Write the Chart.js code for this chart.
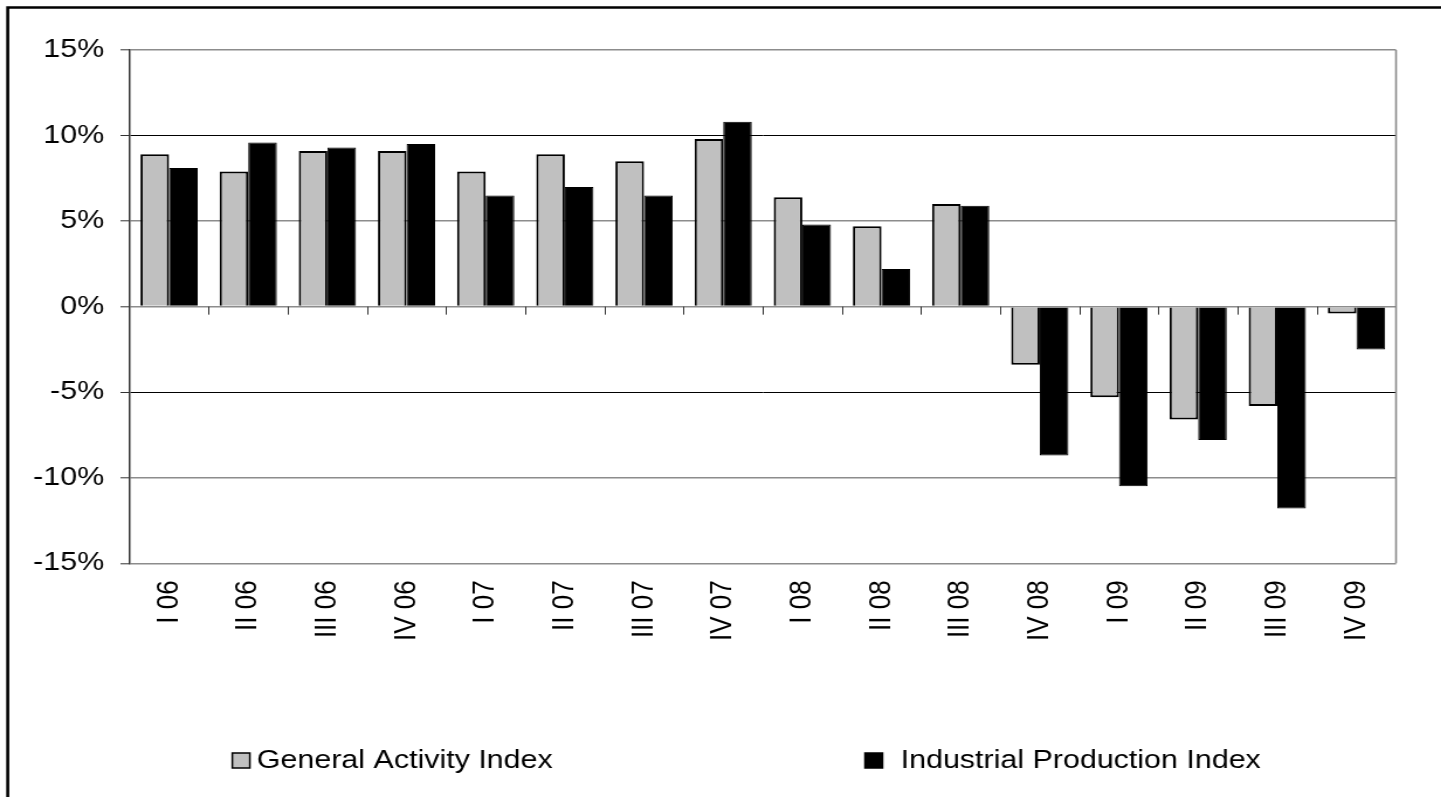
<!DOCTYPE html>
<html>
<head>
<meta charset="utf-8">
<script src="https://cdn.jsdelivr.net/npm/chart.js@4.4.1/dist/chart.umd.min.js"></script>
<style>
  html, body { margin: 0; padding: 0; background: #fff; overflow: hidden; }
  /* the chart is laid out narrower and stretched sideways, like the exported sheet */
  #wrap {
    position: absolute; left: 0; top: 0;
    width: 1232px; height: 797px;
    transform: scaleX(1.1697); transform-origin: 0 0;
  }
</style>
</head>
<body>
<div id="wrap"><canvas id="myChart"></canvas></div>
<script>
const quarters = ['I 06', 'II 06', 'III 06', 'IV 06', 'I 07', 'II 07', 'III 07', 'IV 07',
                  'I 08', 'II 08', 'III 08', 'IV 08', 'I 09', 'II 09', 'III 09', 'IV 09'];

// year-on-year change, %
const generalActivity = [8.9, 7.9, 9.1, 9.1, 7.9, 8.9, 8.5, 9.8, 6.4, 4.7, 6.0, -3.4, -5.3, -6.6, -5.8, -0.4];
const industrialProduction = [8.1, 9.6, 9.3, 9.5, 6.5, 7.0, 6.5, 10.8, 4.8, 2.2, 5.9, -8.7, -10.5, -7.8, -11.8, -2.5];

const seriesNames = ['General Activity Index', 'Industrial Production Index'];
const yTicks = [-15, -10, -5, 0, 5, 10, 15];

const FONT = '"Liberation Sans", Arial, sans-serif';
const FONT_SIZE = 26;

// outer frame, right border, tick marks on the zero line and the legend
const decorations = {
  id: 'decorations',
  afterDraw(chart) {
    const ctx = chart.ctx;
    const area = chart.chartArea;
    const xs = chart.scales.x;
    const ys = chart.scales.y;
    ctx.save();

    // heavy frame (top and left)
    ctx.strokeStyle = '#000';
    ctx.lineWidth = 2.6;
    ctx.beginPath();
    ctx.moveTo(6.6, chart.height + 5);
    ctx.lineTo(6.6, 7.5);
    ctx.lineTo(chart.width + 5, 7.5);
    ctx.stroke();

    // right edge of plot
    ctx.strokeStyle = '#888';
    ctx.lineWidth = 1.6;
    ctx.beginPath();
    ctx.moveTo(area.right, area.top);
    ctx.lineTo(area.right, area.bottom);
    ctx.stroke();

    // category tick marks hanging from 0%
    const y0 = ys.getPixelForValue(0);
    const step = xs.width / quarters.length;
    ctx.strokeStyle = '#333';
    ctx.lineWidth = 1;
    ctx.beginPath();
    for (let i = 1; i < quarters.length; i++) {
      const x = Math.round(xs.left + i * step) + 0.5;
      ctx.moveTo(x, y0);
      ctx.lineTo(x, y0 + 8);
    }
    ctx.stroke();

    // legend
    const items = [
      { box: [198.6, 753, 15, 15], textX: 219.6 },
      { box: [739.5, 753, 15, 15], textX: 770 }
    ];
    ctx.font = FONT_SIZE + 'px ' + FONT;
    ctx.textBaseline = 'alphabetic';
    ctx.textAlign = 'left';
    chart.data.datasets.forEach((ds, i) => {
      const it = items[i];
      ctx.fillStyle = ds.backgroundColor;
      ctx.fillRect(...it.box);
      ctx.strokeStyle = '#000';
      ctx.lineWidth = 1.5;
      ctx.strokeRect(...it.box);
      ctx.fillStyle = '#000';
      ctx.fillText(ds.label, it.textX, 767.5);
    });
    ctx.restore();
  }
};

const ctx = document.getElementById('myChart').getContext('2d');
new Chart(ctx, {
  type: 'bar',
  data: {
    labels: quarters,
    datasets: [{
      label: seriesNames[0],
      data: generalActivity,
      backgroundColor: '#c0c0c0',
      borderColor: '#000',
      borderWidth: 2,
      categoryPercentage: 0.723,
      barPercentage: 1
    }, {
      label: seriesNames[1],
      data: industrialProduction,
      backgroundColor: '#000',
      borderColor: '#000',
      borderWidth: 1,
      categoryPercentage: 0.723,
      barPercentage: 1
    }]
  },
  options: {
    responsive: true,
    maintainAspectRatio: false,
    animation: false,
    layout: { padding: { top: 50, right: 38.5, bottom: 0, left: 0 } },
    scales: {
      x: {
        grid: { display: false, drawTicks: false },
        border: { display: false },
        ticks: {
          autoSkip: false,
          minRotation: 90,
          maxRotation: 90,
          padding: 17,
          color: '#000',
          font: { family: FONT, size: FONT_SIZE }
        },
        afterFit(scale) { scale.height = 233.7; }
      },
      y: {
        min: -15,
        max: 15,
        afterBuildTicks(scale) { scale.ticks = yTicks.map(v => ({ value: v })); },
        grid: {
          color: c => (c.tick && (c.tick.value === 10 || c.tick.value === -5)) ? '#000' : '#8c8c8c',
          lineWidth: c => (c.tick && (c.tick.value === 10 || c.tick.value === -5)) ? 1 : 1.6,
          tickColor: '#333',
          tickLength: 7.7,
          tickWidth: 1
        },
        border: { display: true, color: '#333', width: 1.5 },
        ticks: {
          padding: 14,
          color: '#000',
          font: { family: FONT, size: FONT_SIZE },
          callback: v => v + '%'
        },
        afterFit(scale) { scale.width = 110.7; }
      }
    },
    plugins: {
      legend: { display: false },
      title: { display: false },
      tooltip: { enabled: false }
    }
  },
  plugins: [decorations]
});
</script>
</body>
</html>
